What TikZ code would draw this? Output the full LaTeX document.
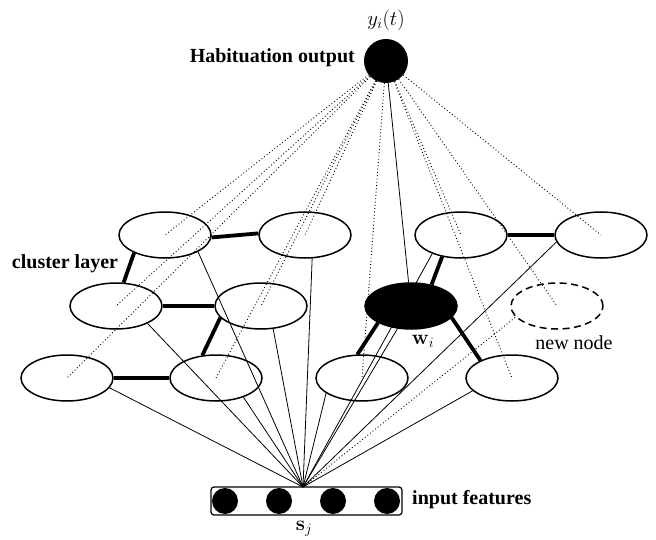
\documentclass[tikz,border=0pt]{standalone}
\usepackage[no-math]{fontspec}
\newfontfamily\tnr{Liberation Serif}
\usetikzlibrary{shapes.geometric}
\pgfdeclarelayer{bg}
\pgfsetlayers{bg,main}
\begin{document}
\begin{tikzpicture}[x=1pt,y=-1pt,
  cl/.style={ellipse,draw,line width=1.5pt,minimum width=92pt,minimum height=46pt,inner sep=0pt},
  win/.style={cl,fill=black},
  newcl/.style={cl,dashed,dash pattern=on 7pt off 4.5pt},
  thin/.style={line width=0.8pt},
  dots/.style={line width=0.9pt,dash pattern=on 0.9pt off 2.4pt},
  thick/.style={line width=3.8pt},
  lbl/.style={font=\tnr\bfseries\fontsize{20}{24}\selectfont,inner sep=0pt},
  plain/.style={font=\tnr\fontsize{20}{24}\selectfont,inner sep=0pt},
  mlbl/.style={font=\fontsize{20.5}{24}\selectfont,inner sep=0pt},
  feat/.style={circle,fill=black,minimum size=26pt,inner sep=0pt}]
\useasboundingbox (0,0) rectangle (656,540);
% output
\node[circle,fill=black,minimum size=44pt,inner sep=0pt] (out) at (386,61) {};
\node[mlbl] (yt) at (386,20) {$y_i(t)$};
\node[lbl,anchor=east] (hab) at (355,58) {Habituation output};
% cluster nodes
\node[cl] (A1) at (165,235) {};
\node[cl] (A2) at (305,235) {};
\node[cl] (B1) at (461,235) {};
\node[cl] (B2) at (601,235) {};
\node[cl] (C1) at (116,306) {};
\node[cl] (C2) at (261,306) {};
\node[win] (W) at (411,306) {};
\node[newcl] (N) at (557,306) {};
\node[cl] (D1) at (67,378) {};
\node[cl] (D2) at (216,378) {};
\node[cl] (D3) at (362,378) {};
\node[cl] (D4) at (512,378) {};
\node[lbl] (cll) at (65,264) {cluster layer};
\node[mlbl] (wl) at (423,341) {$\mathbf{w}_i$};
\node[plain] (nl) at (574,343) {new node};
% input
\node[draw,line width=1.2pt,rounded corners=3pt,minimum width=191pt,minimum height=28pt,inner sep=0pt] (box) at (306.5,501) {};
\node[feat] (f1) at (225,501) {};
\node[feat] (f2) at (279,501) {};
\node[feat] (f3) at (333,501) {};
\node[feat] (f4) at (387,501) {};
\coordinate (conv) at (303,487);
\node[lbl,anchor=west] (inf) at (412,500) {input features};
\node[mlbl] (sj) at (304,529) {$\mathbf{s}_j$};
\begin{pgfonlayer}{bg}
% dotted from output to cluster centres
\foreach \n in {A1,A2,B1,B2,C1,C2,N,D1,D2,D3,D4}
  \draw[dots] (out) -- (\n.center);
\draw[thin] (out) -- (W);
% input connections
\draw[thin] (conv) -- (A1.333);
\draw[thin] (conv) -- (A2.287);
\draw[thin] (conv) -- (C1.331);
\draw[thin] (conv) -- (C2.298);
\draw[thin] (conv) -- (D1.347);
\draw[thin] (conv) -- (D2.325);
\draw[thin] (conv) -- (D3.203);
\draw[thin] (conv) -- (B1.213);
\draw[thin] (conv) -- (W);
\draw[thin] (conv) -- (B2.189);
\draw[thin] (conv) -- (D4.198);
\draw[dots] (conv) -- (N.195);
% topology edges
\draw[thick] (A1.357) -- (A2.178);
\draw[thick] (A1.210) -- (C1.72);
\draw[thick] (C1.east) -- (C2.west);
\draw[thick] (C2.196) -- (D2.121);
\draw[thick] (D1.east) -- (D2.west);
\draw[thick] (B1.east) -- (B2.west);
\draw[thick] (B1.229) -- (W.46);
\draw[thick] (W.207) -- (D3.101);
\draw[thick] (W.344) -- (D4.151);
\end{pgfonlayer}
\end{tikzpicture}
\end{document}
